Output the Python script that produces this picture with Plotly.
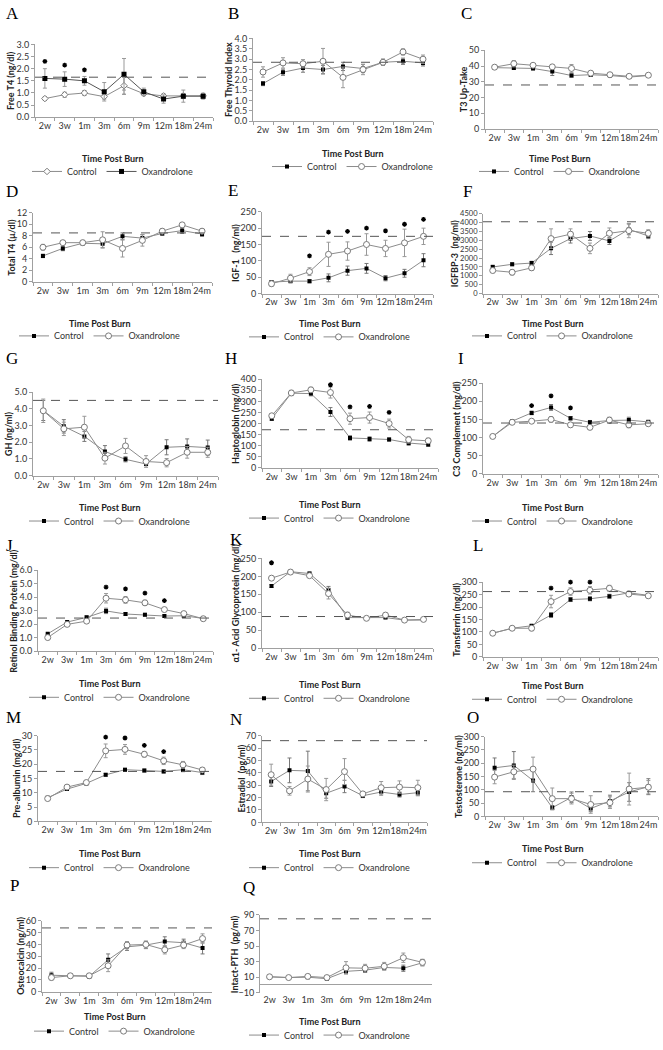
import plotly.graph_objects as go

W, H = 663, 1050
cats = ["2w", "3w", "1m", "3m", "6m", "9m", "12m", "18m", "24m"]

# ---- data ----
A_ctl = [0.77, 0.93, 1.0, 0.85, 1.3, 0.97, 0.88, 0.88, 0.88]
A_ctl_e = [0.08, 0.1, 0.1, 0.1, 0.35, 0.08, 0.08, 0.1, 0.1]
A_oxa = [1.6, 1.57, 1.5, 1.05, 1.77, 1.05, 0.75, 0.87, 0.87]
A_oxa_e = [0.4, 0.3, 0.18, 0.38, 0.65, 0.15, 0.17, 0.25, 0.12]
A_star = [2.3, 2.15, 1.95, None, None, None, None, None, None]

B_ctl = [1.82, 2.37, 2.57, 2.5, 2.65, 2.55, 2.85, 2.9, 2.82]
B_ctl_e = [0.1, 0.15, 0.2, 0.2, 0.2, 0.2, 0.15, 0.15, 0.15]
B_oxa = [2.38, 2.82, 2.78, 2.9, 2.12, 2.5, 2.85, 3.35, 3.0]
B_oxa_e = [0.25, 0.25, 0.2, 0.62, 0.5, 0.25, 0.15, 0.15, 0.2]

C_ctl = [39, 38.8, 38.5, 36.5, 34, 34.5, 34, 33, 34]
C_ctl_e = [0.7, 0.8, 0.8, 2.5, 1, 1, 0.8, 0.8, 0.6]
C_oxa = [39.3, 41.5, 40.5, 39.5, 38.5, 35.5, 34.5, 33.5, 34.2]
C_oxa_e = [1, 2, 1, 1, 2.5, 1, 1, 1, 0.7]

D_ctl = [4.5, 5.8, 6.7, 6.6, 7.9, 7.6, 8.4, 8.9, 8.3]
D_ctl_e = [0.3, 0.4, 0.3, 0.7, 0.6, 0.6, 0.3, 0.5, 0.4]
D_oxa = [6.0, 6.8, 6.8, 7.3, 5.8, 7.2, 8.8, 9.9, 8.8]
D_oxa_e = [0.5, 0.3, 0.4, 1.4, 1.5, 1.0, 0.4, 0.4, 0.4]

E_ctl = [35, 38, 38, 48, 70, 77, 47, 62, 102]
E_ctl_e = [4, 4, 5, 12, 14, 15, 8, 12, 20]
E_oxa = [30, 47, 67, 120, 130, 150, 138, 155, 175]
E_oxa_e = [8, 12, 12, 37, 28, 33, 25, 42, 25]
E_star = [None, None, 115, 188, 190, 200, 192, 212, 227]

F_ctl = [1500, 1650, 1720, 2550, 3100, 3250, 2970, 3620, 3250]
F_ctl_e = [100, 80, 100, 350, 250, 250, 200, 300, 150]
F_oxa = [1300, 1200, 1450, 3100, 3350, 2550, 3400, 3550, 3400]
F_oxa_e = [120, 150, 150, 550, 300, 300, 300, 400, 200]

G_ctl = [3.9, 2.95, 2.35, 1.45, 0.98, 0.7, 1.7, 1.75, 1.68]
G_ctl_e = [0.6, 0.4, 0.3, 0.35, 0.15, 0.1, 0.45, 0.45, 0.45]
G_oxa = [3.88, 2.8, 2.9, 1.05, 1.78, 0.85, 0.78, 1.4, 1.4]
G_oxa_e = [0.7, 0.4, 0.65, 0.35, 0.45, 0.35, 0.25, 0.35, 0.3]

H_ctl = [222, 337, 335, 252, 135, 130, 128, 112, 105]
H_ctl_e = [8, 10, 10, 20, 10, 10, 7, 10, 8]
H_oxa = [235, 338, 352, 340, 222, 227, 200, 127, 122]
H_oxa_e = [10, 12, 12, 25, 25, 25, 20, 15, 12]
H_star = [None, None, None, 375, 275, 277, 250, None, None]

I_ctl = [103, 145, 168, 183, 153, 142, 147, 148, 143]
I_ctl_e = [3, 4, 5, 8, 5, 5, 8, 8, 5]
I_oxa = [103, 142, 145, 150, 135, 128, 148, 135, 138]
I_oxa_e = [3, 4, 5, 8, 6, 6, 8, 8, 5]
I_star = [None, None, 188, 215, 182, None, None, None, None]

J_ctl = [1.28, 2.15, 2.5, 2.98, 2.75, 2.7, 2.6, 2.62, 2.42]
J_ctl_e = [0.05, 0.08, 0.1, 0.2, 0.1, 0.1, 0.08, 0.1, 0.1]
J_oxa = [1.0, 1.98, 2.22, 3.92, 3.8, 3.58, 3.08, 2.78, 2.4]
J_oxa_e = [0.1, 0.1, 0.1, 0.35, 0.25, 0.2, 0.15, 0.12, 0.1]
J_star = [None, None, None, 4.75, 4.62, 4.3, 3.75, None, None]

K_ctl = [173, 213, 208, 162, 85, 84, 85, 78, 78]
K_ctl_e = [4, 4, 4, 10, 5, 3, 3, 3, 3]
K_oxa = [195, 212, 202, 152, 92, 83, 92, 78, 80]
K_oxa_e = [5, 5, 5, 15, 8, 3, 6, 4, 3]
K_star = [238, None, None, None, None, None, None, None, None]

L_ctl = [95, 115, 125, 168, 230, 233, 243, 257, 247]
L_ctl_e = [3, 3, 5, 10, 8, 8, 8, 5, 5]
L_oxa = [95, 115, 115, 222, 262, 267, 275, 252, 245]
L_oxa_e = [3, 4, 10, 25, 15, 15, 12, 8, 6]
L_star = [None, None, None, 276, 300, 300, 304, None, None]

M_ctl = [8.3, 11.3, 13.3, 16.3, 18.1, 17.8, 17.5, 18.1, 17.1]
M_ctl_e = [0.3, 0.4, 0.4, 0.5, 0.5, 0.5, 0.5, 0.7, 0.7]
M_oxa = [8.0, 12.0, 13.6, 24.7, 25.2, 23.5, 21.2, 19.8, 18.0]
M_oxa_e = [0.4, 0.4, 0.4, 2.4, 1.7, 1.0, 1.3, 1.2, 0.8]
M_star = [None, None, None, 29.5, 29.2, 26.6, 24.4, None, None]

N_ctl = [33, 42, 41.5, 23.5, 29, 21.5, 24.5, 22.5, 24]
N_ctl_e = [4, 10, 16, 4, 5, 1.5, 2.5, 2, 2.5]
N_oxa = [38.5, 25.5, 35, 26.5, 41, 23, 28, 28.5, 28]
N_oxa_e = [8.5, 3.5, 10.5, 9, 10.5, 1.5, 5, 5, 6]

O_ctl = [183, 192, 135, 33, 72, 30, 58, 92, 112]
O_ctl_e = [37, 52, 42, 8, 20, 12, 22, 35, 30]
O_oxa = [148, 168, 178, 67, 67, 45, 52, 103, 110]
O_oxa_e = [25, 25, 45, 40, 20, 33, 22, 60, 25]

P_ctl = [14, 13.5, 13, 27, 38, 39.5, 42.5, 41.5, 37]
P_ctl_e = [2.5, 1.5, 1.5, 5, 3, 3, 4, 3, 5]
P_oxa = [12, 13.5, 13.5, 22, 39.5, 40, 35.5, 39.5, 45]
P_oxa_e = [2, 1.5, 1.5, 5, 3, 3, 3.5, 3, 4]

Q_ctl = [10.5, 9.5, 10, 8, 17.5, 19, 22.5, 21.5, 28.5]
Q_ctl_e = [1, 1, 1.5, 1, 3, 3, 3, 4, 4]
Q_oxa = [10.5, 9.5, 11, 9.5, 22, 21.5, 24, 35, 29]
Q_oxa_e = [1, 1, 1.5, 2, 8, 5, 5, 6, 4]

ref_lines = {"A": 1.65, "B": 2.85, "C": 28, "D": 8.5, "E": 175, "F": 4050,
             "G": 4.5, "H": 172, "I": 140, "J": 2.45, "K": 88, "L": 262,
             "M": 17.5, "N": 66, "O": 93, "P": 54, "Q": 85}

# ---- panel layout (pixels) ----
R1 = 658
panels = [
    ("A", "Free T4 (ng/dl)", (0, 3.0, 0.5, 0, ".1f"), A_ctl, A_ctl_e, A_oxa, A_oxa_e, A_star,
     35, 213, 39, 113, (4, 8), 155, 168, 113),
    ("B", "Free Thyroid Index", (0, 4.0, 0.5, 0, ".1f"), B_ctl, B_ctl_e, B_oxa, B_oxa_e, None,
     253, 433, 33, 117, (226, 8), 150, 163, 353),
    ("C", "T3 Up-Take", (0, 50, 10, 0, "d"), C_ctl, C_ctl_e, C_oxa, C_oxa_e, None,
     485, R1, 45, 125, (459, 8), 155, 168, 560),
    ("D", "Total T4 (µ/dl)", (0, 12, 2, 0, "d"), D_ctl, D_ctl_e, D_oxa, D_oxa_e, None,
     33, 212, 210, 280, (4, 188), 322, 335, 100),
    ("E", "IGF-1   (ng/ml)", (0, 250, 50, 0, "d"), E_ctl, E_ctl_e, E_oxa, E_oxa_e, E_star,
     262, 433, 209, 292, (226, 187), 322, 336, 330),
    ("F", "IGFBP-3  (ng/ml)", (0, 4500, 500, 0, "d"), F_ctl, F_ctl_e, F_oxa, F_oxa_e, None,
     483, R1, 211, 292, (461, 188), 322, 335, 553),
    ("G", "GH (ng/ml)", (0, 5.0, 1.0, 0, ".1f"), G_ctl, G_ctl_e, G_oxa, G_oxa_e, None,
     33, 218, 392, 477, (4, 358), 509, 523, 110),
    ("H", "Haptoglobin (mg/dl)", (0, 400, 50, 0, "d"), H_ctl, H_ctl_e, H_oxa, H_oxa_e, H_star,
     262, 438, 379, 469, (223, 358), 506, 520, 330),
    ("I", "C3 Complement (mg/dl)", (0, 250, 50, 0, "d"), I_ctl, I_ctl_e, I_oxa, I_oxa_e, I_star,
     483, R1, 383, 475, (456, 358), 509, 523, 553),
    ("J", "Retinol Binding Protein (mg/dl)", (0, 6.0, 1.0, 0, ".1f"), J_ctl, J_ctl_e, J_oxa, J_oxa_e, J_star,
     38, 213, 573, 655, (4, 548), 688, 702, 110),
    ("K", "α1- Acid Glycoprotein (mg/dl)", (0, 250, 50, 0, "d"), K_ctl, K_ctl_e, K_oxa, K_oxa_e, K_star,
     262, 433, 561, 652, (228, 542), 689, 703, 330),
    ("L", "Transferrin (mg/dl)", (0, 300, 50, 0, "d"), L_ctl, L_ctl_e, L_oxa, L_oxa_e, L_star,
     483, R1, 585, 661, (471, 548), 690, 704, 553),
    ("M", "Pre-albumin (mg/dl)", (0, 30, 5, 0, "d"), M_ctl, M_ctl_e, M_oxa, M_oxa_e, M_star,
     38, 212, 741, 828, (4, 723), 861, 875, 110),
    ("N", "Estradiol  (pg/ml)", (0, 70, 10, 0, "d"), N_ctl, N_ctl_e, N_oxa, N_oxa_e, None,
     262, 427, 741, 829, (228, 725), 861, 875, 330),
    ("O", "Testosterone (ng/ml)", (0, 300, 50, 0, "d"), O_ctl, O_ctl_e, O_oxa, O_oxa_e, None,
     485, R1, 742, 823, (465, 723), 856, 870, 553),
    ("P", "Osteocalcin (ng/ml)", (0, 60, 10, 0, "d"), P_ctl, P_ctl_e, P_oxa, P_oxa_e, None,
     42, 212, 929, 1001, (8, 893), 1026, 1041, 115),
    ("Q", "Intact-PTH  (pg/ml)", (-10, 90, 20, -10, "d"), Q_ctl, Q_ctl_e, Q_oxa, Q_oxa_e, None,
     260, 432, 923, 1002, (241, 895), 1031, 1045, 330),
]

LINE = "#8c8c8c"
AXC = "#a0a0a0"
TXT = "#333333"
FONT = "Lato"


def label_width(s, fs):
    w = 0.0
    for ch in s:
        w += 0.27 * fs if ch == "." else (0.36 * fs if ch == "-" else 0.58 * fs)
    return w


fig = go.Figure()
layout = dict(width=W, height=H, margin=dict(l=0, r=0, t=0, b=0),
              plot_bgcolor="white", paper_bgcolor="white",
              font=dict(family=FONT, size=9, color=TXT), showlegend=True)
shapes, annotations = [], []

for i, p in enumerate(panels):
    (let, ytitle, yax, ctl, ctl_e, oxa, oxa_e, stars,
     x0, x1, yt, yb, lpos, ty, ly, cx) = p
    n = "" if i == 0 else str(i + 1)
    xa, ya = "x" + n, "y" + n
    lg = "legend" + n
    ymin, ymax, dt, t0, fmt = yax
    yfs = 7.5 if let == "F" else 9

    if let == "A":
        ctl_marker = dict(symbol="diamond", size=5, color="white", line=dict(color="#7a7a7a", width=1))
        oxa_marker = dict(symbol="square", size=5, color="black")
        oxa_line = "#555555"
    else:
        ctl_marker = dict(symbol="square", size=4, color="black")
        oxa_marker = dict(symbol="circle", size=6, color="white", line=dict(color="#7a7a7a", width=1))
        oxa_line = LINE

    fig.add_trace(go.Scatter(
        x=cats, y=ctl, name="Control", mode="lines+markers", xaxis=xa, yaxis=ya,
        line=dict(color=LINE, width=1), marker=ctl_marker, legend=lg,
        error_y=dict(type="data", array=ctl_e, color="#777777", thickness=1, width=2)))
    fig.add_trace(go.Scatter(
        x=cats, y=oxa, name="Oxandrolone", mode="lines+markers", xaxis=xa, yaxis=ya,
        line=dict(color=oxa_line, width=1), marker=oxa_marker, legend=lg,
        error_y=dict(type="data", array=oxa_e, color="#999999", thickness=1, width=2)))
    if stars is not None:
        fig.add_trace(go.Scatter(
            x=cats, y=stars, mode="markers", xaxis=xa, yaxis=ya, showlegend=False,
            cliponaxis=False, hoverinfo="skip",
            marker=dict(symbol="asterisk", size=4, color="black",
                        line=dict(color="black", width=1.3))))

    ticks = []
    v = t0
    while v <= ymax + 1e-9:
        ticks.append(format(v, fmt) if fmt != "d" else str(int(round(v))))
        v += dt
    lw = max(label_width(t, yfs) for t in ticks)
    title_x = x0 - 4 - lw - 7

    layout["xaxis" + n] = dict(
        domain=[x0 / W, x1 / W], anchor=ya, type="category",
        categoryorder="array", categoryarray=cats, range=[-0.5, 8.5],
        showline=(let != "Q"), linecolor=AXC, linewidth=1, tickangle=0,
        ticks="outside" if let != "Q" else "", tickson="boundaries", ticklen=3, tickcolor=AXC,
        showgrid=False, zeroline=False, tickfont=dict(size=9, color=TXT, family=FONT))
    layout["yaxis" + n] = dict(
        domain=[1 - yb / H, 1 - yt / H], anchor=xa, range=[ymin, ymax],
        tick0=t0, dtick=dt, tickformat=fmt,
        showline=True, linecolor=AXC, linewidth=1, ticks="outside", ticklen=3, tickcolor=AXC,
        showgrid=False, zeroline=(let == "Q"), zerolinecolor=AXC, zerolinewidth=1,
        tickfont=dict(size=yfs, color=TXT, family=FONT))
    layout[lg] = dict(x=cx / W, y=1 - ly / H, xanchor="center", yanchor="middle",
                      orientation="h", font=dict(size=9, color=TXT, family=FONT),
                      bgcolor="rgba(0,0,0,0)", itemwidth=30, tracegroupgap=0,
                      itemclick=False, itemdoubleclick=False)

    shapes.append(dict(type="line", xref=xa + " domain", yref=ya, x0=0, x1=1,
                       y0=ref_lines[let], y1=ref_lines[let],
                       line=dict(color="#555555", width=1, dash="dash")))
    annotations.append(dict(text="<b>" + ytitle + "</b>", textangle=-90,
                            x=title_x / W, y=1 - ((yt + yb) / 2) / H, xref="paper", yref="paper",
                            xanchor="center", yanchor="middle", showarrow=False,
                            font=dict(family=FONT, size=9, color="#222")))
    annotations.append(dict(text=let, x=lpos[0] / W, y=1 - lpos[1] / H, xref="paper", yref="paper",
                            xanchor="left", yanchor="middle", showarrow=False,
                            font=dict(family="Liberation Serif", size=17, color="black")))
    annotations.append(dict(text="<b>Time Post Burn</b>", x=cx / W, y=1 - ty / H, xref="paper",
                            yref="paper", xanchor="center", yanchor="middle", showarrow=False,
                            font=dict(family=FONT, size=9, color="#222")))

layout["shapes"] = shapes
layout["annotations"] = annotations
fig.update_layout(**layout)
fig.write_html("out.html", config={"displayModeBar": False},
               post_script="document.body.style.margin='0';document.body.style.padding='0';")
